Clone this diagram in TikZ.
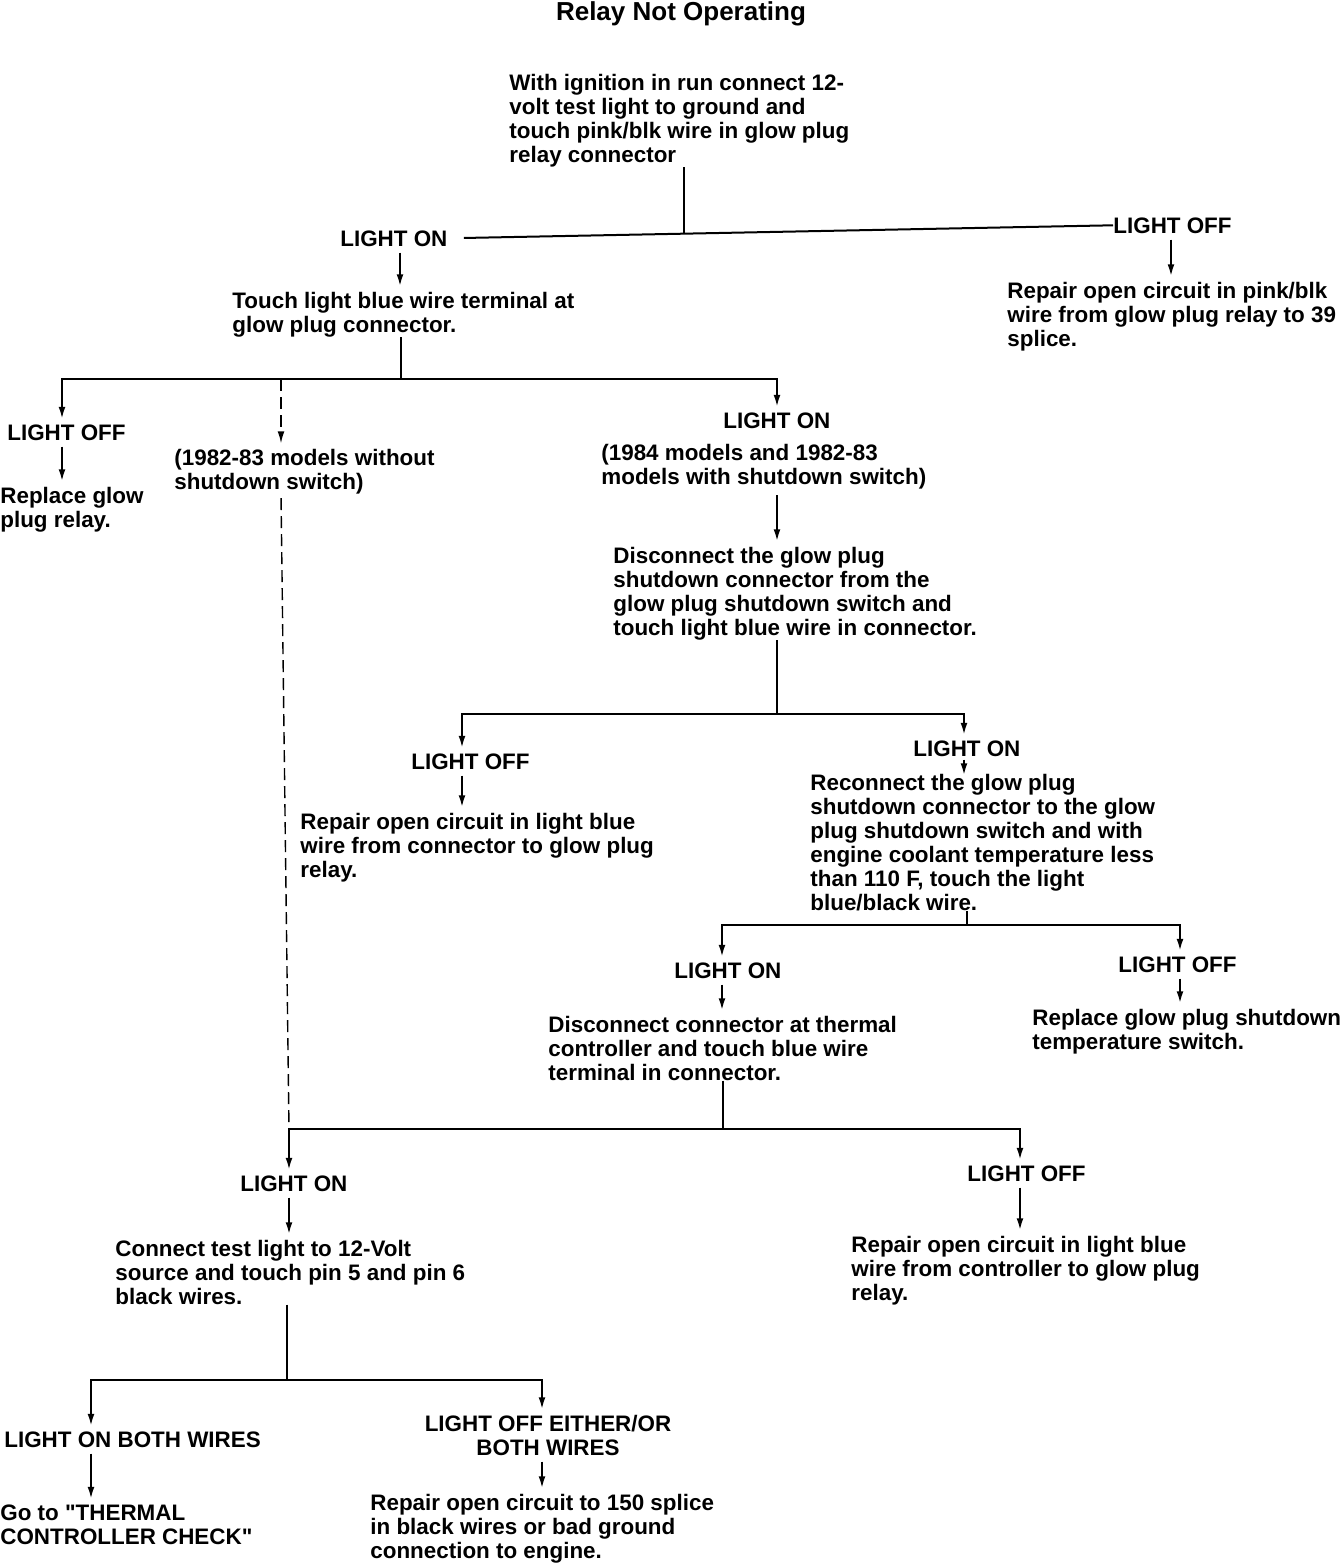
\documentclass[tikz,border=0pt]{standalone}
\usepackage{fontspec}
\setmainfont{Liberation Sans}[Ligatures=TeXOff]
\usetikzlibrary{arrows.meta, positioning}
\tikzset{
	note/.style={
		anchor=base west,
		align=left,
		inner sep=0pt,
		font=\fontsize{11.2}{12}\selectfont\bfseries
	},
	heading/.style={
		anchor=base,
		inner sep=0pt,
		font=\fontsize{13}{15}\selectfont\bfseries
	},
	wire/.style={line width=1pt},
	flow/.style={wire, -{Latex[length=6pt, width=3.4pt]}, shorten >=2.5pt},
	lead/.style={flow, shorten <=3pt},
	maybe/.style={line width=0.7pt, dash pattern=on 6pt off 3pt}
}

\begin{document}
\begin{tikzpicture}[x=0.5pt, y=-0.5pt]
		\useasboundingbox (0,0) rectangle (1344,1564);
		
		% notes are placed by the baseline of their last line
		\node[heading] (title) at (681,20) {Relay Not Operating};
		
		% first test
		\node[note] (ign) at (509,162) {With ignition in run connect 12-\\volt test light to ground and\\touch pink/blk wire in glow plug\\relay connector};
		\node[note] (on1) at (340,246) {LIGHT ON};
		\node[note] (off1) at (1113,233) {LIGHT OFF};
		\node[note] (touch) at (232,332) {Touch light blue wire terminal at\\glow plug connector.};
		\node[note] (rep1) at (1007,346) {Repair open circuit in pink/blk\\wire from glow plug relay to 39\\splice.};
		
		\coordinate (k1l) at (400,0);
		\coordinate (k1r) at (1171,0);
		\draw[wire, shorten <=8pt] (on1.east) -- coordinate[pos=0.355] (t1) (off1.west);
		\draw[wire] (ign.south -| t1) -- (t1);
		\draw[lead] (on1.south -| k1l) -- (touch.north -| k1l);
		\draw[lead] (off1.south -| k1r) -- (rep1.north -| k1r);
		
		% second test
		\node[note] (off2) at (7,440) {LIGHT OFF};
		\node[note] (repl) at (0,527) {Replace glow\\plug relay.};
		\node[note] (noshut) at (174,489) {(1982-83 models without\\shutdown switch)};
		\node[note] (on2) at (723,428) {LIGHT ON};
		\node[note] (with84) at (601,484) {(1984 models and 1982-83\\models with shutdown switch)};
		\node[note] (disc1) at (613,635) {Disconnect the glow plug\\shutdown connector from the\\glow plug shutdown switch and\\touch light blue wire in connector.};
		
		\coordinate (t2) at (401,379);
		\coordinate (k2l) at (62,0);
		\coordinate (k2d) at (281,0);
		\coordinate (k2r) at (777,0);
		\draw[wire] (touch.south -| t2) -- (t2);
		\draw[flow] (t2) -| (off2.north -| k2l);
		\draw[flow] (t2) -| (on2.north -| k2r);
		\draw[flow, maybe] (t2 -| k2d) -- (noshut.north -| k2d);
		\draw[lead] (off2.south -| k2l) -- (repl.north -| k2l);
		\draw[lead] (with84.south -| k2r) -- (disc1.north -| k2r);
		
		% third test
		\node[note] (off3) at (411,769) {LIGHT OFF};
		\node[note] (rep3) at (300,877) {Repair open circuit in light blue\\wire from connector to glow plug\\relay.};
		\node[note] (on3) at (913,756) {LIGHT ON};
		\node[note] (reconn) at (810,910) {Reconnect the glow plug\\shutdown connector to the glow\\plug shutdown switch and with\\engine coolant temperature less\\than 110 F, touch the light\\blue/black wire.};
		
		\coordinate (t3) at (777,714);
		\coordinate (k3l) at (462,0);
		\coordinate (k3r) at (964,0);
		\draw[wire] (disc1.south -| t3) -- (t3);
		\draw[flow] (t3) -| (off3.north -| k3l);
		\draw[flow] (t3) -| (on3.north -| k3r);
		\draw[lead] (off3.south -| k3l) -- (rep3.north -| k3l);
		\draw[lead, shorten <=1.5pt, shorten >=-1pt] (on3.south -| k3r) -- (reconn.north -| k3r);
		
		% fourth test
		\node[note] (on4) at (674,978) {LIGHT ON};
		\node[note] (disc2) at (548,1080) {Disconnect connector at thermal\\controller and touch blue wire\\terminal in connector.};
		\node[note] (off4) at (1118,972) {LIGHT OFF};
		\node[note] (rep4) at (1032,1049) {Replace glow plug shutdown\\temperature switch.};
		
		\coordinate (t4) at (967,925);
		\coordinate (k4l) at (722,0);
		\coordinate (k4r) at (1180,0);
		\draw[wire] (reconn.south -| t4) -- (t4);
		\draw[flow] (t4) -| (on4.north -| k4l);
		\draw[flow] (t4) -| (off4.north -| k4r);
		\draw[lead] (on4.south -| k4l) -- (disc2.north -| k4l);
		\draw[lead] (off4.south -| k4r) -- (rep4.north -| k4r);
		
		% fifth test
		\node[note] (on5) at (240,1191) {LIGHT ON};
		\node[note] (conn) at (115,1304) {Connect test light to 12-Volt\\source and touch pin 5 and pin 6\\black wires.};
		\node[note] (off5) at (967,1181) {LIGHT OFF};
		\node[note] (rep5) at (851,1300) {Repair open circuit in light blue\\wire from controller to glow plug\\relay.};
		
		\coordinate (t5) at (723,1129);
		\coordinate (k5l) at (289,0);
		\coordinate (k5r) at (1020,0);
		\draw[wire] (disc2.south -| t5) -- (t5);
		\draw[flow] (t5) -| (on5.north -| k5l);
		\draw[flow] (t5) -| (off5.north -| k5r);
		\draw[lead] (on5.south -| k5l) -- (conn.north -| k5l);
		\draw[lead] (off5.south -| k5r) -- (rep5.north -| k5r);
		\draw[maybe, shorten <=2pt] (noshut.south -| k2d) -- (t5 -| k5l);
		
		% last test
		\node[note] (on6) at (4,1447) {LIGHT ON BOTH WIRES};
		\node[note] (goto) at (0,1544) {Go to "THERMAL\\CONTROLLER CHECK"};
		\node[note, anchor=base, align=center] (off6) at (548,1455) {LIGHT OFF EITHER/OR\\BOTH WIRES};
		\node[note] (rep6) at (370,1558) {Repair open circuit to 150 splice\\in black wires or bad ground\\connection to engine.};
		
		\coordinate (t6) at (287,1380);
		\coordinate (k6l) at (91,0);
		\coordinate (k6r) at (542,0);
		\draw[wire] (conn.south -| t6) -- (t6);
		\draw[flow] (t6) -| (on6.north -| k6l);
		\draw[flow] (t6) -| (off6.north -| k6r);
		\draw[lead] (on6.south -| k6l) -- (goto.north -| k6l);
		\draw[lead] (off6.south -| k6r) -- (rep6.north -| k6r);
\end{tikzpicture}
\end{document}
